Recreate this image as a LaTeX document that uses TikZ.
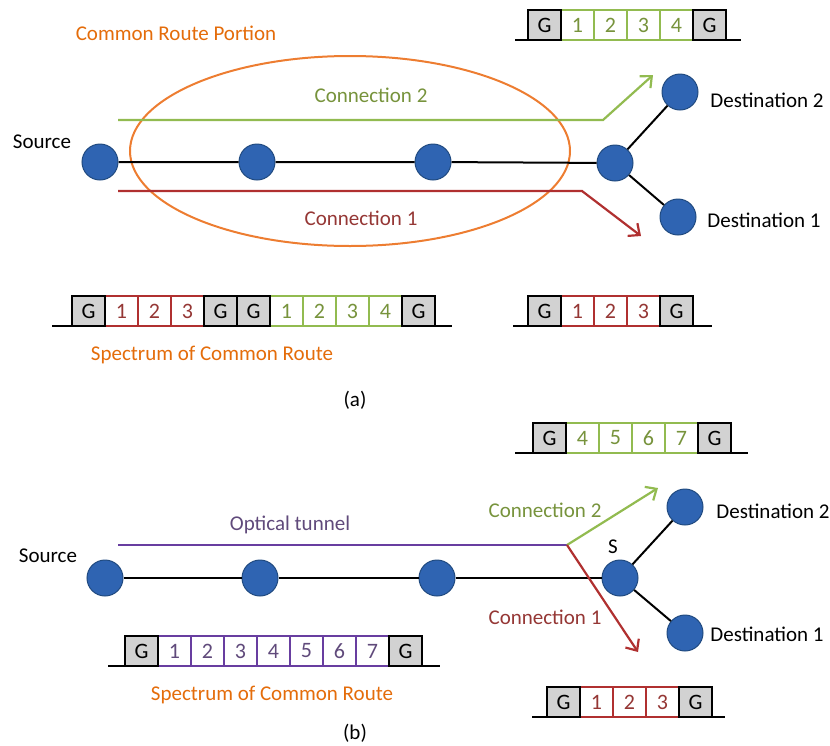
\documentclass[tikz,border=0pt]{standalone}
\usepackage{fontspec}
\setmainfont{Carlito}
\usetikzlibrary{positioning, arrows.meta}

\definecolor{nodeblue}{RGB}{47,100,178}
\definecolor{nodeedge}{RGB}{32,74,128}
\definecolor{routeorange}{RGB}{237,125,49}
\definecolor{textorange}{RGB}{228,108,10}
\definecolor{cgreen}{RGB}{146,187,80}
\definecolor{cgreentext}{RGB}{119,147,60}
\definecolor{cred}{RGB}{176,48,48}
\definecolor{credtext}{RGB}{149,55,53}
\definecolor{cpurple}{RGB}{104,62,160}
\definecolor{cpurpletext}{RGB}{96,74,123}
\definecolor{guardgray}{RGB}{210,210,210}

\tikzset{
  every node/.style={font=\fontsize{21}{24}\selectfont},
  station/.style={circle, draw=nodeedge, fill=nodeblue, line width=1pt, minimum size=36pt, inner sep=0pt},
  link/.style={line width=2pt},
  base/.style={line width=2.5pt},
  conn/.style={line width=2.2pt, -{Straight Barb[length=9pt, width=16pt, line width=2.2pt]}},
  cell/.style={draw, line width=1.6pt, minimum width=33pt, minimum height=30pt, inner sep=0pt,
    outer sep=0pt, font=\fontsize{22}{24}\selectfont},
  gband/.style={cell, draw=black, fill=guardgray, text=black},
  gslot/.style={cell, draw=cgreen, fill=white, text=cgreentext},
  rslot/.style={cell, draw=cred, fill=white, text=credtext},
  pslot/.style={cell, draw=cpurple, fill=white, text=cpurpletext},
  gframe/.style={draw=black, line width=1.6pt}
}

\begin{document}
\begin{tikzpicture}[x=1pt, y=-1pt]
  \useasboundingbox (0,0) rectangle (830,745);

  %% ---------------- (a) ----------------
  \draw[routeorange, line width=2pt] (350,151) ellipse [x radius=220, y radius=95];
  \node[text=textorange] (portion) at (176,33) {Common Route Portion};

  \node[station] (a1) at (100,162) {};
  \node[station] (a2) at (257,162) {};
  \node[station] (a3) at (433,162) {};
  \node[station] (as) at (615,163) {};
  \node[station] (ad2) at (680,92) {};
  \node[station] (ad1) at (678,217) {};

  \draw[link] (a1) -- (a2) -- (a3) -- (as);
  \draw[link] (as) -- (ad2);
  \draw[link] (as) -- (ad1);

  \node (asrc) at (42,142) {Source};
  \node (adst2) at (767,100) {Destination 2};
  \node (adst1) at (764,220) {Destination 1};

  \coordinate (ag0) at (118,120);
  \coordinate (ag1) at (603,120);
  \coordinate (ag2) at (653,75);
  \draw[conn, cgreen] (ag0) -- (ag1) -- (ag2);
  \node[text=cgreentext] (aglab) at (371,95) {Connection 2};

  \coordinate (ar0) at (118,191);
  \coordinate (ar1) at (582,191);
  \coordinate (ar2) at (641,236);
  \draw[conn, cred] (ar0) -- (ar1) -- (ar2);
  \node[text=credtext] (arlab) at (361,218) {Connection 1};

  % spectrum of connection 2
  \draw[base] (515,40) -- (741,40);
  \foreach \t/\s [count=\i from 0] in {G/gband,1/gslot,2/gslot,3/gslot,4/gslot,G/gband}
    \node[\s] (at\i) at (544.5+33*\i,25) {\t};

  % spectrum of the common route
  \draw[base] (52,326) -- (452,326);
  \foreach \t/\s [count=\i from 0] in {G/gband,1/rslot,2/rslot,3/rslot,G/gband,G/gband,1/gslot,2/gslot,3/gslot,4/gslot,G/gband}
    \node[\s] (ac\i) at (88.5+33*\i,311) {\t};
  \node[text=textorange] (aspec) at (212,355) {Spectrum of Common Route};

  % spectrum of connection 1
  \draw[base] (513,326) -- (712,326);
  \foreach \t/\s [count=\i from 0] in {G/gband,1/rslot,2/rslot,3/rslot,G/gband}
    \node[\s] (ar\i) at (544.5+33*\i,311) {\t};

  % guard bands keep their black frame on top
  \foreach \g in {at0,at5,ac0,ac4,ac5,ac10,ar0,ar4}
    \draw[gframe] (\g.south west) rectangle (\g.north east);

  \node (acap) at (355,400) {(a)};

  %% ---------------- (b) ----------------
  \node[station] (b1) at (105,578) {};
  \node[station] (b2) at (260,578) {};
  \node[station] (b3) at (437,578) {};
  \node[station] (bs) at (620,578) {};
  \node[station] (bd2) at (685,507) {};
  \node[station] (bd1) at (685,633) {};

  \draw[link] (b1) -- (b2) -- (b3) -- (bs);
  \draw[link] (bs) -- (bd2);
  \draw[link] (bs) -- (bd1);

  \node (bsrc) at (48,556) {Source};
  \node (bslab) at (613,547) {S};
  \node (bdst2) at (773,511) {Destination 2};
  \node (bdst1) at (767,634) {Destination 1};

  \coordinate (bt0) at (118,545);
  \coordinate (bt1) at (567,545);
  \coordinate (bg2) at (658,488);
  \coordinate (br2) at (638,652);
  \draw[line width=2.5pt, cpurple] (bt0) -- (bt1);
  \draw[conn, cgreen] (bt1) -- (bg2);
  \draw[conn, cred] (bt1) -- (br2);
  \node[text=cpurpletext] (btlab) at (290,525) {Optical tunnel};
  \node[text=cgreentext] (bglab) at (545,510) {Connection 2};
  \node[text=credtext] (brlab) at (545,617) {Connection 1};

  % spectrum of connection 2
  \draw[base] (515,453) -- (748,453);
  \foreach \t/\s [count=\i from 0] in {G/gband,4/gslot,5/gslot,6/gslot,7/gslot,G/gband}
    \node[\s] (bt\i) at (549.5+33*\i,438) {\t};

  % spectrum of the common route (tunnel)
  \draw[base] (108,666) -- (440,666);
  \foreach \t/\s [count=\i from 0] in {G/gband,1/pslot,2/pslot,3/pslot,4/pslot,5/pslot,6/pslot,7/pslot,G/gband}
    \node[\s] (bc\i) at (141.5+33*\i,651) {\t};
  \node[text=textorange] (bspec) at (272,695) {Spectrum of Common Route};

  % spectrum of connection 1
  \draw[base] (532,717) -- (725,717);
  \foreach \t/\s [count=\i from 0] in {G/gband,1/rslot,2/rslot,3/rslot,G/gband}
    \node[\s] (br\i) at (563.5+33*\i,702) {\t};

  \foreach \g in {bt0,bt5,bc0,bc8,br0,br4}
    \draw[gframe] (\g.south west) rectangle (\g.north east);

  \node (bcap) at (355,733) {(b)};
\end{tikzpicture}
\end{document}
